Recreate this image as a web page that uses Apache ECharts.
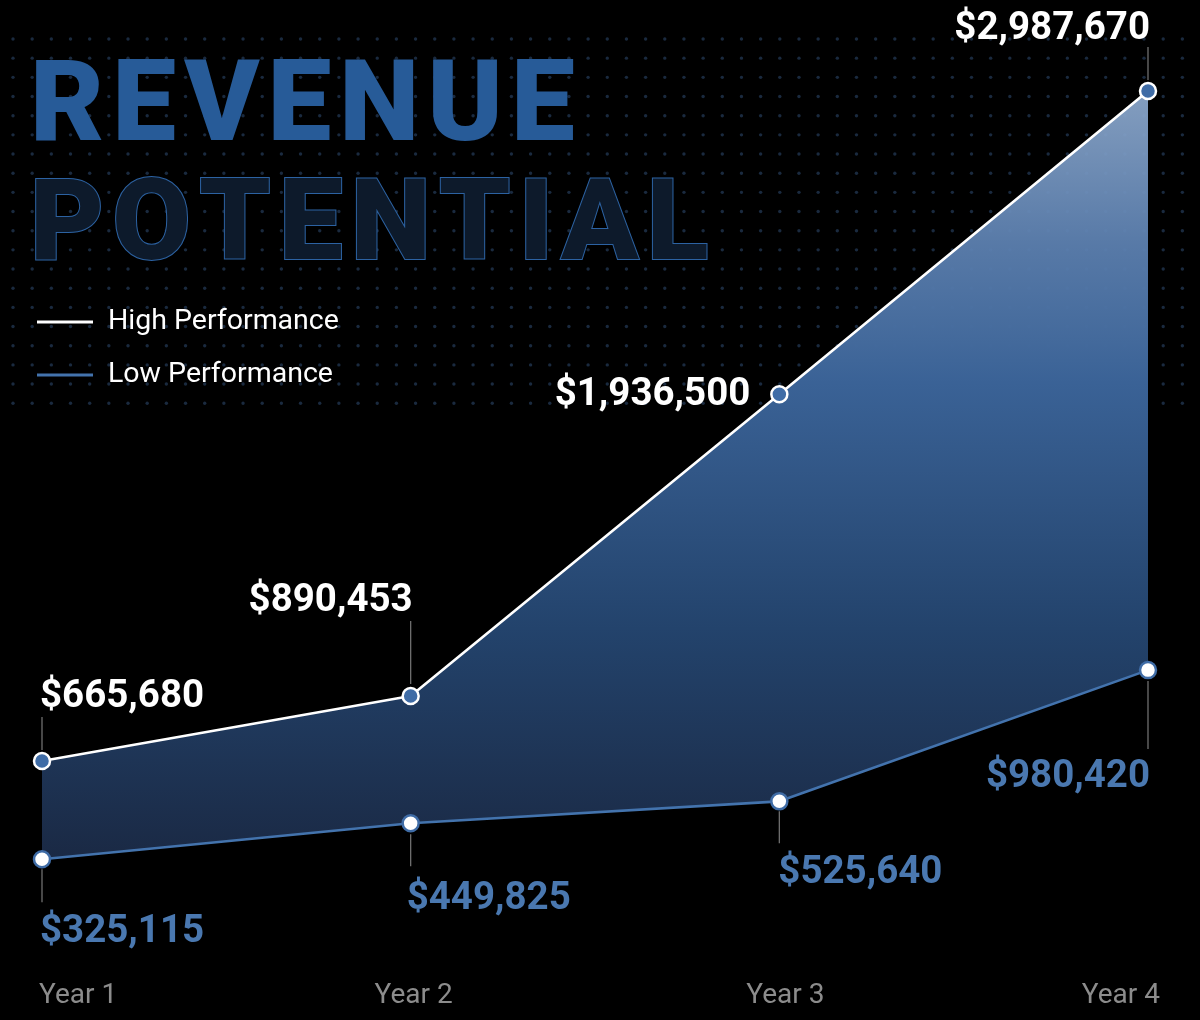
<!DOCTYPE html>
<html><head><meta charset="utf-8">
<script src="https://cdn.jsdelivr.net/npm/echarts@6/dist/echarts.min.js"></script>
<style>html,body{margin:0;padding:0;background:#000;} #chart{width:1200px;height:1020px;}</style>
</head><body><div id="chart"></div>
<script>
// ---- data ----
const years = ['Year 1', 'Year 2', 'Year 3', 'Year 4'];
const highPerformance = [665680, 890453, 1936500, 2987670];
const lowPerformance = [325115, 449825, 525640, 980420];
const legendNames = ['High Performance', 'Low Performance'];
const titleLine1 = 'REVENUE';
const titleLine2 = 'POTENTIAL';

// ---- placement / style config ----
const highLabelPlacement = [
  { align: 'left', offset: [-2, -64] },
  { align: 'right', offset: [2, -95] },
  { align: 'right', offset: [-29, 1] },
  { align: 'right', offset: [2, -62] }
];
const lowLabelPlacement = [
  { align: 'left', offset: [-2, 73] },
  { align: 'left', offset: [-4, 76] },
  { align: 'left', offset: [-1, 72] },
  { align: 'right', offset: [2, 107] }
];
const highLeaders = [[-44, -11], [-75, -12], null, [-44, -11]];
const lowLeaders = [[10, 43], [11, 43], [10, 42], [11, 79]];
// per-label horizontal nudges for the axis labels (rich padding)
const yearLabelPadding = [[0, 0, 0, -3], [0, 0, 0, 6], [0, 0, 0, 12], [0, -12, 0, 0]];

const FONT = 'Roboto';
const BLUE = '#3f6ca6';
const LOWTEXT = '#4a78b0';

const chart = echarts.init(document.getElementById('chart'), null, { renderer: 'canvas' });
const fmt = v => '$' + Number(v).toLocaleString('en-US');

function withLabels(values, placement) {
  return values.map((v, i) => ({
    value: v,
    label: {
      position: 'inside',
      offset: placement[i].offset,
      align: placement[i].align,
      verticalAlign: 'middle'
    }
  }));
}

const band = highPerformance.map((h, i) => h - lowPerformance[i]);
const yearRich = {};
yearLabelPadding.forEach((p, i) => {
  yearRich['y' + i] = { color: '#8c8c8c', fontSize: 28, fontFamily: FONT, padding: p };
});

const option = {
  backgroundColor: '#000',
  animation: false,
  grid: { left: 42, right: 52, top: 87.4, bottom: 67, containLabel: false },
  legend: {
    orient: 'vertical',
    left: 32,
    top: 302,
    itemWidth: 56,
    itemHeight: 3,
    itemGap: 23,
    icon: 'rect',
    selectedMode: false,
    textStyle: { color: '#fff', fontSize: 28.5, fontFamily: FONT, lineHeight: 30, padding: [0, 0, 0, 10] },
    data: [
      { name: legendNames[0], itemStyle: { color: '#ffffff', borderWidth: 0 } },
      { name: legendNames[1], itemStyle: { color: '#4373ad', borderWidth: 0 } }
    ]
  },
  xAxis: {
    type: 'category',
    data: years,
    boundaryGap: false,
    axisLine: { show: false },
    axisTick: { show: false },
    splitLine: { show: false },
    axisLabel: {
      color: '#8c8c8c', fontSize: 28, fontFamily: FONT, margin: 29,
      alignMinLabel: 'left', alignMaxLabel: 'right',
      formatter: (v, i) => '{y' + i + '|' + v + '}',
      rich: yearRich
    }
  },
  yAxis: { type: 'value', min: 0, max: 3000000, show: false, splitLine: { show: false } },
  series: [
    {
      name: 'base', type: 'line', stack: 'band', data: lowPerformance,
      symbol: 'none', lineStyle: { opacity: 0 }, silent: true, z: 1
    },
    {
      name: 'band', type: 'line', stack: 'band', data: band,
      symbol: 'none', lineStyle: { opacity: 0 }, silent: true, z: 1,
      areaStyle: {
        opacity: 1,
        color: new echarts.graphic.LinearGradient(0, 0, 0, 1, [
          { offset: 0, color: 'rgba(142,170,206,0.93)' },
          { offset: 0.2, color: 'rgba(92,128,176,0.95)' },
          { offset: 0.38, color: '#3a6296' },
          { offset: 0.7, color: '#23436c' },
          { offset: 1, color: '#1a2944' }
        ])
      }
    },
    {
      name: legendNames[0], type: 'line',
      data: withLabels(highPerformance, highLabelPlacement),
      symbol: 'circle', symbolSize: 16,
      lineStyle: { color: '#ffffff', width: 2.6 },
      itemStyle: { color: BLUE, borderColor: '#ffffff', borderWidth: 2.5 },
      z: 5,
      label: {
        show: true, formatter: p => fmt(p.value), color: '#ffffff',
        fontSize: 38.5, fontWeight: 'bold', fontFamily: FONT, textBorderWidth: 0
      }
    },
    {
      name: legendNames[1], type: 'line',
      data: withLabels(lowPerformance, lowLabelPlacement),
      symbol: 'circle', symbolSize: 16,
      lineStyle: { color: '#4373ad', width: 2.6 },
      itemStyle: { color: '#ffffff', borderColor: BLUE, borderWidth: 2.5 },
      z: 5,
      label: {
        show: true, formatter: p => fmt(p.value), color: LOWTEXT,
        fontSize: 38.5, fontWeight: 'bold', fontFamily: FONT, textBorderWidth: 0
      }
    }
  ]
};
chart.setOption(option);

// ---- decoration: dotted background, title, leader lines ----
const graphics = [];
const dotStep = 19.17;
for (let r = 0; r < 20; r++) {
  for (let c = 0; c < 62; c++) {
    graphics.push({
      type: 'circle', silent: true, z: 0,
      shape: { cx: 13 + c * dotStep, cy: 39 + r * dotStep, r: 1.7 },
      style: { fill: '#1a2a3f' }
    });
  }
}

const measureCtx = document.createElement('canvas').getContext('2d');
function spacedTitle(text, x0, yMid, size, spacing, style) {
  measureCtx.font = '900 ' + size + 'px ' + FONT;
  let x = x0;
  for (const ch of text) {
    graphics.push({
      type: 'text', silent: true, z: 1,
      x: x, y: yMid,
      style: Object.assign({
        text: ch, font: '900 ' + size + 'px ' + FONT,
        textAlign: 'left', textVerticalAlign: 'middle'
      }, style)
    });
    x += measureCtx.measureText(ch).width + spacing;
  }
}
spacedTitle(titleLine1, 30, 111, 114, 8, { fill: '#275b98' });
spacedTitle(titleLine2, 30, 230, 114, 8, { fill: '#0d1a2b', stroke: '#2c62a2', lineWidth: 2 });

function addLeaders(values, leaders) {
  values.forEach((v, i) => {
    const seg = leaders[i];
    if (!seg) return;
    const p = chart.convertToPixel({ gridIndex: 0 }, [i, v]);
    graphics.push({
      type: 'line', silent: true, z: 1,
      shape: { x1: p[0], y1: p[1] + seg[0], x2: p[0], y2: p[1] + seg[1] },
      style: { stroke: '#6f6f6f', lineWidth: 1.3 }
    });
  });
}
addLeaders(highPerformance, highLeaders);
addLeaders(lowPerformance, lowLeaders);

chart.setOption({ graphic: { elements: graphics } });
</script>
</body></html>
